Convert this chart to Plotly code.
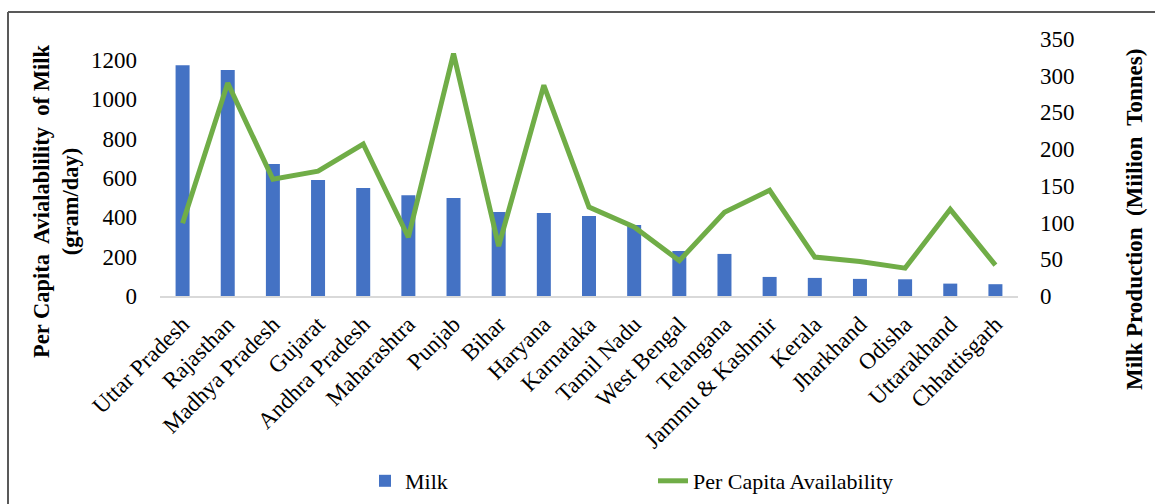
import plotly.graph_objects as go

states = ["Uttar Pradesh", "Rajasthan", "Madhya Pradesh", "Gujarat", "Andhra Pradesh",
          "Maharashtra", "Punjab", "Bihar", "Haryana", "Karnataka", "Tamil Nadu",
          "West Bengal", "Telangana", "Jammu & Kashmir", "Kerala", "Jharkhand",
          "Odisha", "Uttarakhand", "Chhattisgarh"]
milk = [1174, 1149, 671, 590, 549, 513, 498, 427, 422, 407, 361, 229, 214, 97,
        92, 87, 85, 63, 60]
per_capita = [99, 290, 159, 170, 207, 80, 330, 68, 287, 121, 94, 48, 114, 144,
              53, 47, 38, 118, 42]

FONT = "Liberation Serif, Times New Roman, serif"

# plot area in pixels
L, R, T, B = 160, 1018, 39, 296
W, H = 1155, 504
def px(x):
    return (x - L) / (R - L)
def py(y):
    return (B - y) / (B - T)

fig = go.Figure()
fig.add_trace(go.Bar(x=states, y=milk, name="Milk", marker_color="#4472C4",
                     marker_line_width=0, yaxis="y", legend="legend"))
fig.add_trace(go.Scatter(x=states, y=per_capita, name="Per Capita Availability",
                         mode="lines", line=dict(color="#70AD47", width=5),
                         yaxis="y2", legend="legend2"))

fig.update_layout(
    width=W, height=H,
    margin=dict(l=L, r=W - R, t=T, b=H - B, autoexpand=False),
    paper_bgcolor="white", plot_bgcolor="white",
    font=dict(family=FONT, size=22, color="black"),
    bargap=0.69,
    xaxis=dict(tickangle=-45, showgrid=False, showline=True, linecolor="#d9d9d9",
               linewidth=1.5, ticks="", tickfont=dict(size=23),
               ticklabelstandoff=4),
    yaxis=dict(range=[0, 1307], tickvals=[0, 200, 400, 600, 800, 1000, 1200],
               showgrid=False, showline=False, zeroline=False, ticks="",
               ticklabelstandoff=22, tickfont=dict(size=23)),
    yaxis2=dict(range=[0, 350], dtick=50, overlaying="y", side="right",
                showgrid=False, showline=False, zeroline=False, ticks="",
                ticklabelstandoff=21, tickfont=dict(size=23)),
    legend=dict(x=px(365), y=py(481), xanchor="left", yanchor="middle",
                font=dict(size=22), bgcolor="rgba(0,0,0,0)"),
    legend2=dict(x=px(653), y=py(481), xanchor="left", yanchor="middle",
                 font=dict(size=22), bgcolor="rgba(0,0,0,0)"),
    showlegend=True,
)

fig.add_annotation(text="<b>Per Capita  Avialablility  of Milk</b><br><b>(gram/day)</b>",
                   xref="paper", yref="paper", x=px(56), y=py(202),
                   xanchor="center", yanchor="middle", textangle=-90,
                   showarrow=False, font=dict(size=22.5, family=FONT))
fig.add_annotation(text="<b>Milk Production  (Miilion  Tonnes)</b>",
                   xref="paper", yref="paper", x=px(1135), y=py(220),
                   xanchor="center", yanchor="middle", textangle=-90,
                   showarrow=False, font=dict(size=23, family=FONT))

# outer frame (top and left edges visible)
fig.add_shape(type="line", xref="paper", yref="paper", x0=px(8), x1=px(1160),
              y0=py(12), y1=py(12), line=dict(color="#595959", width=2))
fig.add_shape(type="line", xref="paper", yref="paper", x0=px(8), x1=px(8),
              y0=py(12), y1=py(510), line=dict(color="#595959", width=2))

fig.write_html("out.html", config={"displayModeBar": False},
               post_script="document.body.style.margin='0px';document.body.style.overflow='hidden';")
